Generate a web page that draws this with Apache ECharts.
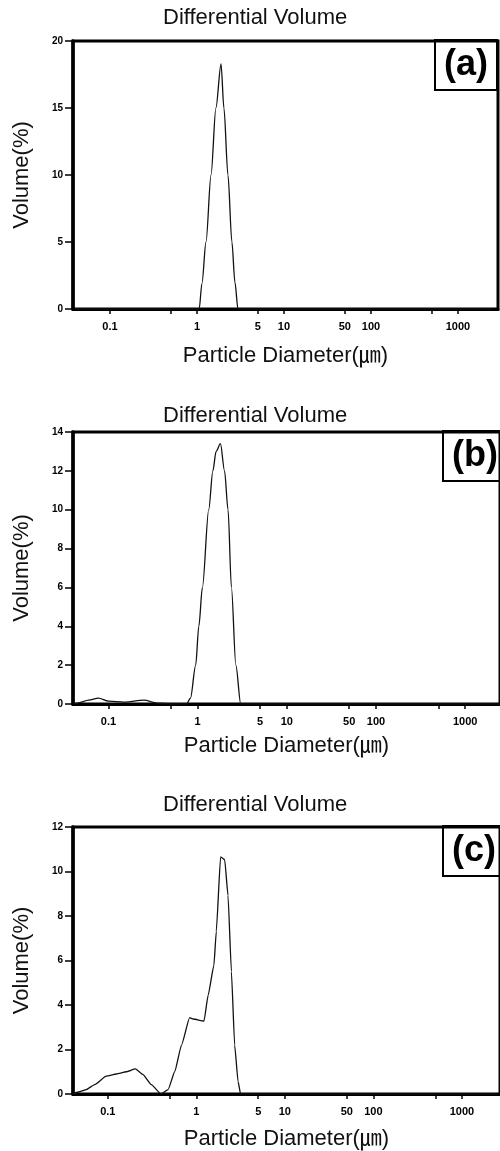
<!DOCTYPE html>
<html>
<head>
<meta charset="utf-8">
<script src="https://cdn.jsdelivr.net/npm/echarts@6/dist/echarts.min.js"></script>
<style>
  html, body { margin: 0; padding: 0; background: #fff; }
  #chart { width: 500px; height: 1151px; }
</style>
</head>
<body>
<div id="chart"></div>
<script>
// particle diameter (um) and differential volume (%)
var diamA = [0.04, 1.06, 1.14, 1.27, 1.45, 1.65, 1.89, 2.04, 2.27, 2.52, 2.73, 2.96, 2500];
var volA  = [0,    0,    1.9,  5,    10,   15,   18.3, 15,   10,   5,    2,    0,    0];

var diamB = [0.04, 0.045, 0.06, 0.077, 0.1, 0.15, 0.25, 0.35, 0.5, 0.75, 0.83, 0.95, 1.03, 1.13, 1.33, 1.48, 1.61, 1.80, 2.00, 2.19, 2.39, 2.68, 3.04, 2500];
var volB  = [0,    0.05,  0.2,  0.3,   0.15, 0.1, 0.2,  0.05, 0,   0,    0.3,  2,    4,    6,    10,   12,   13,   13.4, 12,   10,   6,    2,    0,    0];

var diamC = [0.04, 0.048, 0.057, 0.071, 0.096, 0.125, 0.162, 0.205, 0.25, 0.31, 0.40, 0.48, 0.57, 0.68, 0.84, 0.92, 1.22, 1.36, 1.58, 1.68, 1.88, 2.09, 2.28, 2.49, 2.71, 2.96, 3.16, 2500];
var volC  = [0,    0.1,   0.2,   0.42,  0.8,   0.9,   1.0,   1.13,  0.87, 0.42, 0,    0.2,  1.0,  2.2,  3.43, 3.37, 3.28, 4.44, 5.79, 7.3,  10.66, 10.53, 8.92, 5.5, 2.2,  0.57, 0,    0];

var xLabelValues = [0.1, 1, 5, 10, 50, 100, 1000];
var xTickValues  = [0.1, 0.5, 1, 5, 10, 50, 100, 500, 1000];
var yMax      = [20, 14, 12];
var yInterval = [5, 2, 2];
var tags = ['(a)', '(b)', '(c)'];

var FONT = '"Liberation Sans", Arial, "Noto Sans CJK KR", sans-serif';

// panel placement
var gridBox = [
  { left: 73, top: 41,  width: 425, height: 268 },
  { left: 73, top: 432, width: 428, height: 272 },
  { left: 73, top: 827, width: 428, height: 269 }
];
var xRange = [[-1.425, 3.46], [-1.398, 3.39], [-1.393, 3.43]];
var titleTop = [7, 405, 794];
var tagPos = [[435, 40], [443, 431], [443, 826]];
var xNameGap = [36, 31, 34];

function toPoints(d, v) {
  return d.map(function (x, i) { return [Math.log10(x), v[i]]; });
}
var seriesData = [toPoints(diamA, volA), toPoints(diamB, volB), toPoints(diamC, volC)];

var titles = [], grids = [], xAxes = [], yAxes = [], series = [];
for (var i = 0; i < 3; i++) {
  titles.push({
    text: 'Differential Volume', left: 163, top: titleTop[i], padding: 0,
    textStyle: { fontFamily: FONT, fontSize: 22, fontWeight: 'normal', color: '#111' }
  });
  titles.push({
    text: tags[i], left: tagPos[i][0], top: tagPos[i][1], padding: [6, 9],
    borderColor: '#000', borderWidth: 2,
    textStyle: { fontFamily: FONT, fontSize: 36, lineHeight: 38, fontWeight: 'bold', color: '#000' }
  });
  grids.push(Object.assign({ show: true, borderColor: '#000', borderWidth: 3, containLabel: false }, gridBox[i]));
  xAxes.push({
    type: 'value', gridIndex: i, min: xRange[i][0], max: xRange[i][1],
    name: 'Particle Diameter(㎛)', nameLocation: 'middle', nameGap: xNameGap[i],
    nameTextStyle: { fontFamily: FONT, fontSize: 22, color: '#111' },
    axisLine: { show: true, onZero: false, lineStyle: { color: '#000', width: 3 } },
    axisTick: { show: true, length: 5, customValues: xTickValues.map(Math.log10), lineStyle: { color: '#000', width: 1.5 } },
    axisLabel: {
      customValues: xLabelValues.map(Math.log10), margin: 12,
      fontFamily: FONT, fontSize: 11, fontWeight: 'bold', color: '#000',
      formatter: function (v) { return String(+Math.pow(10, v).toPrecision(3)); }
    },
    splitLine: { show: false }
  });
  yAxes.push({
    type: 'value', gridIndex: i, min: 0, max: yMax[i], interval: yInterval[i],
    name: 'Volume(%)', nameLocation: 'middle', nameGap: 40,
    nameTextStyle: { fontFamily: FONT, fontSize: 22, color: '#111' },
    axisLine: { show: true, onZero: false, lineStyle: { color: '#000', width: 3.5 } },
    axisTick: { show: true, length: 8, lineStyle: { color: '#000', width: 1.5 } },
    axisLabel: { margin: 10, fontFamily: FONT, fontSize: 10, fontWeight: 'bold', color: '#000' },
    splitLine: { show: false }
  });
  series.push({
    type: 'line', xAxisIndex: i, yAxisIndex: i, data: seriesData[i],
    showSymbol: false, symbol: 'none',
    smooth: i === 2 ? 0.15 : 0.3, smoothMonotone: 'x',
    lineStyle: { color: '#111', width: 1.3 }
  });
}

var myChart = echarts.init(document.getElementById('chart'));
myChart.setOption({
  animation: false,
  backgroundColor: '#fff',
  textStyle: { fontFamily: FONT },
  title: titles,
  grid: grids,
  xAxis: xAxes,
  yAxis: yAxes,
  series: series
});
</script>
</body>
</html>
